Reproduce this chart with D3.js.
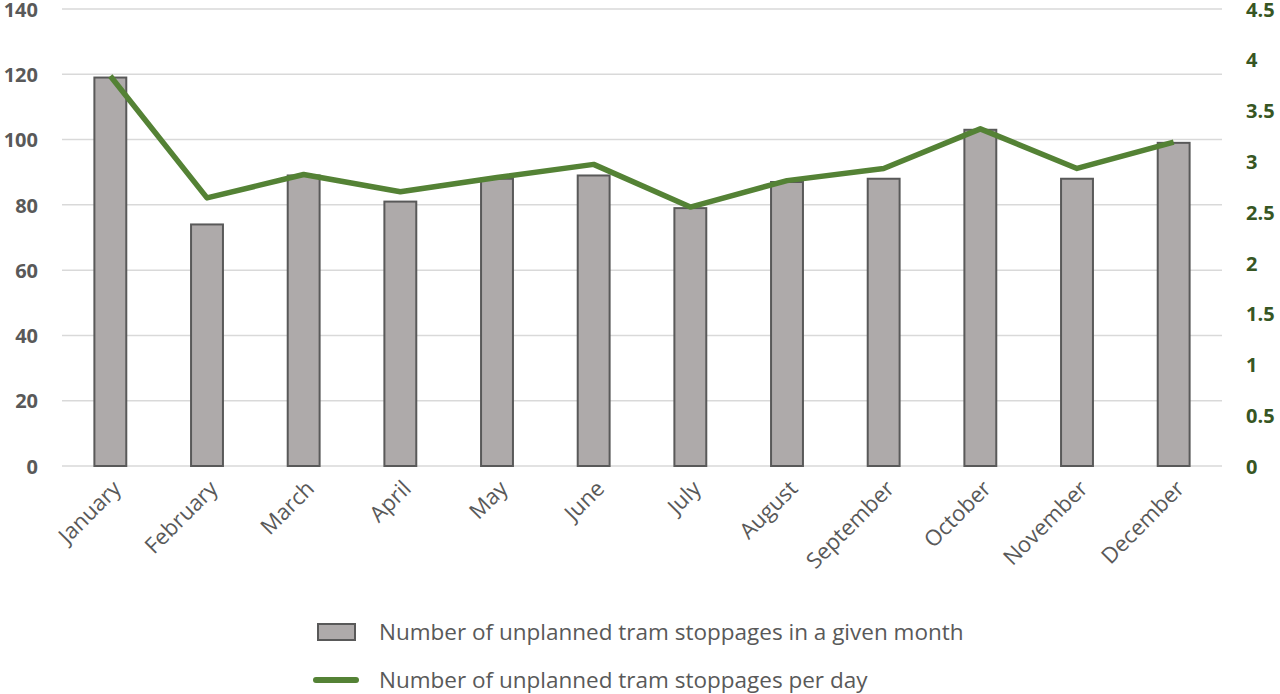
<!DOCTYPE html>
<html><head><meta charset="utf-8">
<script src="https://cdn.jsdelivr.net/npm/d3@7"></script>
<style>body{margin:0;background:#fff}svg{display:block}</style>
</head><body>
<svg id="c" width="1280" height="694"></svg>
<script>
const months = ["January","February","March","April","May","June","July","August","September","October","November","December"];
const stoppagesMonth = [119,74,89,81,88,89,79,87,88,103,88,99];
const stoppagesDay = [3.84,2.64,2.87,2.70,2.84,2.97,2.55,2.81,2.93,3.32,2.93,3.19];
const leftTicks = [0,20,40,60,80,100,120,140];
const rightTicks = [0,0.5,1,1.5,2,2.5,3,3.5,4,4.5];
const legendLabels = ["Number of unplanned tram stoppages in a given month","Number of unplanned tram stoppages per day"];

const svg = d3.select("#c");
const font = "'Open Sans', sans-serif";
const L = 62, R = 1222, T = 9, B = 466;
const x = d3.scaleBand().domain(months).range([L, R]).paddingInner(0.67).paddingOuter(0.335);
const y = d3.scaleLinear().domain([0,140]).range([B, T]);
const y2 = d3.scaleLinear().domain([0,4.5]).range([B, T]);

// gridlines
svg.append("g").selectAll("line").data(leftTicks).join("line")
  .attr("x1", L).attr("x2", R).attr("y1", d=>y(d)).attr("y2", d=>y(d))
  .attr("stroke", "#d9d9d9").attr("stroke-width", 1.5);

// left axis
const ax = svg.append("g").attr("transform", `translate(38,0)`)
  .call(d3.axisLeft(y).tickValues(leftTicks).tickSize(0).tickPadding(0));
ax.select(".domain").remove();
ax.selectAll("text").attr("font-family", font).attr("font-size", 20).attr("font-weight", "bold").attr("fill", "#595959").attr("dy","0.36em");

// right axis
const ax2 = svg.append("g").attr("transform", `translate(1246,0)`)
  .call(d3.axisRight(y2).tickValues(rightTicks).tickSize(0).tickPadding(0).tickFormat(d3.format("")));
ax2.select(".domain").remove();
ax2.selectAll("text").attr("font-family", font).attr("font-size", 20).attr("font-weight", "bold").attr("fill", "#375623").attr("dy","0.36em");

// bars
svg.append("g").selectAll("rect").data(months).join("rect")
  .attr("x", d=>x(d)).attr("width", x.bandwidth())
  .attr("y", (d,i)=>y(stoppagesMonth[i])).attr("height", (d,i)=>B - y(stoppagesMonth[i]))
  .attr("fill", "#aeaaaa").attr("stroke", "#595959").attr("stroke-width", 2);

// line
const line = d3.line().x((d,i)=>x(months[i]) + x.bandwidth()/2).y(d=>y2(d));
svg.append("path").datum(stoppagesDay).attr("d", line)
  .attr("fill", "none").attr("stroke", "#548235").attr("stroke-width", 5.5).attr("stroke-linejoin","round");

// x labels
const xa = svg.append("g").attr("transform", `translate(0,${B})`)
  .call(d3.axisBottom(x).tickSize(0).tickPadding(0));
xa.select(".domain").remove();
xa.selectAll("text").attr("font-family", font).attr("font-size", 22).attr("fill", "#595959")
  .attr("text-anchor", "end").attr("dy", null).attr("y", 0)
  .attr("transform", "translate(12,24) rotate(-45)");

// legend
const lg = svg.append("g");
lg.append("rect").attr("x", 318).attr("y", 624).attr("width", 37).attr("height", 16)
  .attr("fill", "#aeaaaa").attr("stroke", "#595959").attr("stroke-width", 2);
lg.append("line").attr("x1", 316).attr("x2", 356).attr("y1", 680).attr("y2", 680)
  .attr("stroke", "#548235").attr("stroke-width", 6).attr("stroke-linecap","round");
lg.selectAll("text").data(legendLabels).join("text")
  .attr("x", 379).attr("y", (d,i)=> i===0 ? 640 : 688)
  .attr("font-family", font).attr("font-size", 22.5).attr("fill", "#595959")
  .text(d=>d);
</script>
</body></html>
